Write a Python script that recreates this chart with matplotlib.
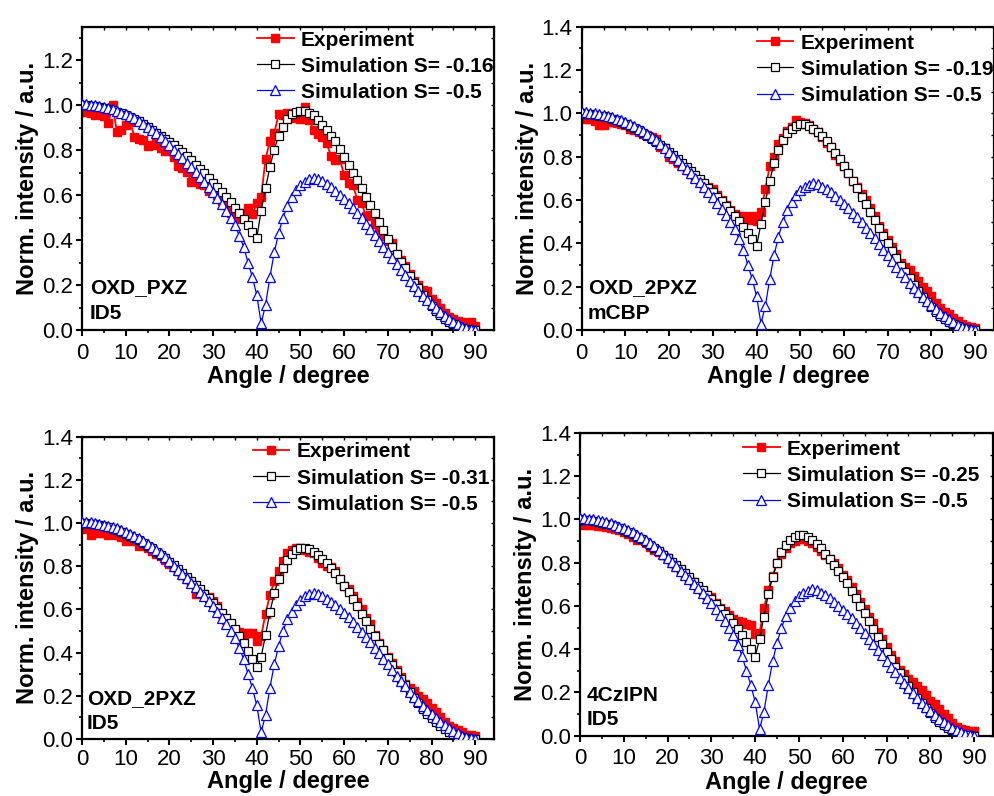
import numpy as np
import matplotlib
matplotlib.use('Agg')
import matplotlib.pyplot as plt
from matplotlib.ticker import MultipleLocator

plt.rcParams['font.family'] = ['Liberation Sans', 'DejaVu Sans']

# ----------------------------------- data -----------------------------------
angle = np.arange(0, 91)

# S = -0.5 simulation, same in every panel
sim_05 = [1.005, 1.005, 1.003, 1.0, 0.997, 0.993, 0.988, 0.982, 0.975, 0.967,
          0.96, 0.951, 0.941, 0.93, 0.918, 0.905, 0.891, 0.876, 0.86, 0.842,
          0.823, 0.803, 0.783, 0.763, 0.743, 0.723, 0.702, 0.681, 0.66, 0.638,
          0.615, 0.588, 0.56, 0.53, 0.50, 0.465, 0.42, 0.37, 0.30, 0.235,
          0.155, 0.03, 0.11, 0.235, 0.345, 0.43, 0.50, 0.553, 0.59, 0.622,
          0.645, 0.66, 0.67, 0.677, 0.672, 0.662, 0.65, 0.636, 0.62, 0.602,
          0.583, 0.563, 0.542, 0.52, 0.497, 0.473, 0.448, 0.423, 0.397, 0.371,
          0.345, 0.319, 0.293, 0.268, 0.243, 0.219, 0.196, 0.174, 0.153, 0.133,
          0.114, 0.096, 0.079, 0.063, 0.049, 0.036, 0.025, 0.015, 0.008, 0.003,
          0.0]

sim_a = [1.0, 0.999, 0.997, 0.995, 0.992, 0.988, 0.983, 0.977, 0.971, 0.964,
         0.956, 0.948, 0.939, 0.929, 0.916, 0.902, 0.89, 0.877, 0.864, 0.851,
         0.838, 0.823, 0.807, 0.79, 0.773, 0.755, 0.736, 0.717, 0.697, 0.677,
         0.656, 0.635, 0.613, 0.591, 0.568, 0.545, 0.52, 0.494, 0.466, 0.438,
         0.41, 0.53, 0.63, 0.726, 0.803, 0.862, 0.904, 0.94, 0.96, 0.97,
         0.975, 0.975, 0.966, 0.955, 0.936, 0.914, 0.889, 0.864, 0.84, 0.807,
         0.77, 0.736, 0.70, 0.667, 0.63, 0.593, 0.556, 0.52, 0.48, 0.444,
         0.407, 0.37, 0.338, 0.304, 0.274, 0.24, 0.21, 0.185, 0.155, 0.133,
         0.107, 0.086, 0.067, 0.049, 0.036, 0.025, 0.016, 0.009, 0.004, 0.001,
         0.0]

sim_b = [1.0, 0.999, 0.997, 0.994, 0.99, 0.986, 0.981, 0.975, 0.968, 0.96,
         0.951, 0.942, 0.932, 0.921, 0.909, 0.896, 0.883, 0.869, 0.854, 0.839,
         0.823, 0.806, 0.789, 0.771, 0.753, 0.735, 0.716, 0.697, 0.677, 0.657,
         0.637, 0.616, 0.595, 0.573, 0.551, 0.528, 0.503, 0.477, 0.448, 0.418,
         0.388, 0.49, 0.59, 0.688, 0.77, 0.83, 0.877, 0.91, 0.93, 0.943,
         0.951, 0.951, 0.94, 0.93, 0.915, 0.895, 0.872, 0.846, 0.818, 0.788,
         0.757, 0.723, 0.688, 0.654, 0.615, 0.58, 0.545, 0.508, 0.47, 0.435,
         0.40, 0.366, 0.331, 0.297, 0.27, 0.238, 0.208, 0.18, 0.154, 0.131,
         0.108, 0.085, 0.066, 0.05, 0.037, 0.026, 0.017, 0.01, 0.005, 0.002,
         0.0]

sim_c = [1.0, 0.999, 0.997, 0.994, 0.99, 0.985, 0.98, 0.974, 0.967, 0.959,
         0.95, 0.941, 0.931, 0.92, 0.908, 0.895, 0.882, 0.868, 0.853, 0.837,
         0.821, 0.804, 0.786, 0.768, 0.75, 0.731, 0.712, 0.692, 0.672, 0.652,
         0.63, 0.608, 0.585, 0.561, 0.536, 0.51, 0.477, 0.443, 0.407, 0.371,
         0.335, 0.38, 0.48, 0.586, 0.674, 0.74, 0.79, 0.827, 0.855, 0.873,
         0.883, 0.883, 0.878, 0.867, 0.852, 0.835, 0.817, 0.792, 0.768, 0.74,
         0.709, 0.679, 0.648, 0.614, 0.579, 0.545, 0.51, 0.476, 0.441, 0.41,
         0.375, 0.341, 0.31, 0.279, 0.249, 0.218, 0.19, 0.164, 0.138, 0.115,
         0.095, 0.077, 0.06, 0.045, 0.033, 0.023, 0.015, 0.009, 0.004, 0.001,
         0.0]

sim_d = [1.0, 0.999, 0.997, 0.994, 0.99, 0.986, 0.981, 0.975, 0.968, 0.96,
         0.951, 0.942, 0.932, 0.921, 0.909, 0.896, 0.882, 0.868, 0.853, 0.838,
         0.822, 0.805, 0.788, 0.77, 0.751, 0.732, 0.713, 0.693, 0.672, 0.651,
         0.63, 0.609, 0.587, 0.565, 0.543, 0.52, 0.495, 0.467, 0.434, 0.401,
         0.366, 0.446, 0.551, 0.654, 0.736, 0.798, 0.849, 0.883, 0.906, 0.921,
         0.926, 0.926, 0.918, 0.906, 0.887, 0.867, 0.842, 0.816, 0.79, 0.763,
         0.735, 0.705, 0.671, 0.637, 0.6, 0.566, 0.531, 0.492, 0.458, 0.423,
         0.389, 0.353, 0.319, 0.289, 0.258, 0.23, 0.202, 0.176, 0.15, 0.127,
         0.103, 0.083, 0.065, 0.049, 0.036, 0.025, 0.016, 0.009, 0.004, 0.001,
         0.0]

exp_a = [0.97, 0.97, 0.965, 0.955, 0.96, 0.95, 0.92, 1.0, 0.88, 0.89,
         0.91, 0.925, 0.86, 0.85, 0.845, 0.82, 0.825, 0.83, 0.81, 0.795,
         0.805, 0.77, 0.73, 0.72, 0.705, 0.66, 0.69, 0.65, 0.645, 0.62,
         0.615, 0.6, 0.575, 0.555, 0.52, 0.495, 0.52, 0.515, 0.545, 0.515,
         0.565, 0.59, 0.76, 0.84, 0.875, 0.96, 0.955, 0.965, 0.945, 0.95,
         0.94, 0.99, 0.935, 0.89, 0.87, 0.86, 0.83, 0.775, 0.755, 0.76,
         0.69, 0.655, 0.645, 0.58, 0.565, 0.505, 0.51, 0.47, 0.445, 0.42,
         0.395, 0.385, 0.34, 0.31, 0.285, 0.25, 0.22, 0.2, 0.18, 0.175,
         0.14, 0.12, 0.1, 0.075, 0.06, 0.05, 0.04, 0.035, 0.03, 0.035,
         0.02]

exp_b = [0.98, 0.975, 0.975, 0.965, 0.945, 0.945, 0.96, 0.96, 0.955, 0.95,
         0.945, 0.93, 0.925, 0.915, 0.905, 0.9, 0.89, 0.88, 0.845, 0.84,
         0.8, 0.79, 0.77, 0.755, 0.74, 0.72, 0.7, 0.69, 0.675, 0.66,
         0.65, 0.625, 0.6, 0.575, 0.555, 0.535, 0.52, 0.525, 0.51, 0.525,
         0.505, 0.545, 0.65, 0.755, 0.8, 0.86, 0.885, 0.92, 0.935, 0.97,
         0.96, 0.955, 0.945, 0.93, 0.915, 0.89, 0.865, 0.845, 0.81, 0.78,
         0.755, 0.725, 0.69, 0.66, 0.63, 0.6, 0.565, 0.525, 0.48, 0.45,
         0.415, 0.385, 0.35, 0.31, 0.29, 0.275, 0.25, 0.225, 0.2, 0.18,
         0.155, 0.125, 0.1, 0.085, 0.072, 0.055, 0.04, 0.03, 0.02, 0.015,
         0.01]

exp_c = [0.975, 0.97, 0.945, 0.965, 0.955, 0.955, 0.945, 0.95, 0.945, 0.935,
         0.915, 0.92, 0.915, 0.895, 0.9, 0.885, 0.87, 0.855, 0.845, 0.83,
         0.81, 0.795, 0.78, 0.76, 0.74, 0.72, 0.67, 0.68, 0.67, 0.655,
         0.64, 0.615, 0.58, 0.55, 0.53, 0.505, 0.495, 0.485, 0.49, 0.49,
         0.455, 0.475, 0.58, 0.665, 0.73, 0.78, 0.825, 0.86, 0.875, 0.885,
         0.885, 0.875, 0.865, 0.86, 0.84, 0.815, 0.8, 0.795, 0.78, 0.74,
         0.71, 0.695, 0.66, 0.635, 0.6, 0.56, 0.53, 0.48, 0.445, 0.41,
         0.38, 0.35, 0.32, 0.285, 0.255, 0.235, 0.22, 0.2, 0.185, 0.165,
         0.145, 0.125, 0.1, 0.08, 0.06, 0.05, 0.04, 0.03, 0.02, 0.02,
         0.015]

exp_d = [0.985, 0.975, 0.975, 0.975, 0.97, 0.97, 0.965, 0.96, 0.955, 0.95,
         0.94, 0.935, 0.92, 0.905, 0.91, 0.89, 0.875, 0.86, 0.85, 0.835,
         0.82, 0.8, 0.78, 0.765, 0.745, 0.725, 0.71, 0.69, 0.67, 0.65,
         0.64, 0.615, 0.59, 0.575, 0.56, 0.54, 0.53, 0.525, 0.515, 0.51,
         0.47, 0.475, 0.59, 0.675, 0.74, 0.8, 0.84, 0.87, 0.89, 0.9,
         0.91, 0.91, 0.9, 0.89, 0.875, 0.855, 0.835, 0.815, 0.8, 0.775,
         0.745, 0.72, 0.69, 0.655, 0.62, 0.585, 0.55, 0.52, 0.48, 0.445,
         0.41, 0.375, 0.345, 0.305, 0.285, 0.26, 0.25, 0.23, 0.21, 0.19,
         0.16, 0.145, 0.125, 0.1, 0.08, 0.06, 0.04, 0.03, 0.025, 0.02,
         0.02]

s_labels = ['Simulation S= -0.16', 'Simulation S= -0.19', 'Simulation S= -0.31', 'Simulation S= -0.25']
samples = [('OXD_PXZ', 'ID5'), ('OXD_2PXZ', 'mCBP'), ('OXD_2PXZ', 'ID5'), ('4CzIPN', 'ID5')]
exps = [exp_a, exp_b, exp_c, exp_d]
sims = [sim_a, sim_b, sim_c, sim_d]

# ----------------------------------- layout -----------------------------------
fig = plt.figure(figsize=(9.95, 7.96), dpi=100)
# [left, bottom, width, height] in figure fraction
boxes = [[0.0824, 0.5854, 0.4141, 0.3807],
         [0.5846, 0.5854, 0.4144, 0.3811],
         [0.0824, 0.0718, 0.4141, 0.3796],
         [0.5829, 0.0758, 0.4151, 0.3802]]
ytops = [1.348, 1.4, 1.4, 1.4]
leg_anchor = [(0.425, 0.988), (0.425, 0.977), (0.415, 0.981), (0.395, 0.978)]
txt_pos = [(0.019, 0.139, 0.056), (0.015, 0.139, 0.056), (0.012, 0.134, 0.052), (0.015, 0.134, 0.052)]
xlab_pad = [1, 1, 0, 1]
xtick_pad = [4.5, 4.5, 3.0, 4.5]

for i in range(4):
    ax = fig.add_axes(boxes[i])
    ax.plot(angle, exps[i], color='red', marker='s', markersize=5.5, linewidth=1.3,
            markeredgecolor='red', label='Experiment', zorder=2)
    ax.plot(angle, sims[i], color='black', marker='s', markersize=5.5, linewidth=0.9,
            markerfacecolor='white', markeredgewidth=0.9, label=s_labels[i], zorder=3)
    ax.plot(angle, sim_05, color='blue', marker='^', markersize=6.5, linewidth=0.9,
            markerfacecolor='white', markeredgewidth=0.9, label='Simulation S= -0.5', zorder=4)

    ax.set_xlim(0, 94.3)
    ax.set_ylim(0, ytops[i])
    ax.xaxis.set_major_locator(MultipleLocator(10))
    ax.xaxis.set_minor_locator(MultipleLocator(5))
    ax.yaxis.set_major_locator(MultipleLocator(0.2))
    ax.yaxis.set_minor_locator(MultipleLocator(0.1))
    ax.yaxis.set_major_formatter(plt.FormatStrFormatter('%.1f'))
    if i == 0:
        ax.set_yticks(np.arange(0, 1.21, 0.2))
    ax.tick_params(which='major', direction='out', length=4.5, width=1.5, labelsize=16, pad=2)
    ax.tick_params(axis='x', which='major', pad=xtick_pad[i])
    ax.tick_params(which='minor', direction='out', length=2.5, width=1.2)
    for sp in ax.spines.values():
        sp.set_linewidth(1.6)

    top = ax.secondary_xaxis('top')
    top.xaxis.set_major_locator(MultipleLocator(10))
    top.xaxis.set_minor_locator(MultipleLocator(5))
    top.tick_params(which='both', direction='in', length=2.5, width=1, labeltop=False)
    right = ax.secondary_yaxis('right')
    right.yaxis.set_major_locator(MultipleLocator(0.2))
    right.yaxis.set_minor_locator(MultipleLocator(0.1))
    right.tick_params(which='both', direction='in', length=2.5, width=1, labelright=False)

    ax.set_xlabel('Angle / degree', fontsize=17, fontweight='bold', labelpad=xlab_pad[i])
    ax.set_ylabel('Norm. intensity / a.u.', fontsize=17, fontweight='bold', labelpad=2)

    ax.legend(loc='upper left', bbox_to_anchor=leg_anchor[i], frameon=False,
              prop={'size': 15, 'weight': 'bold'}, handlelength=1.75, handletextpad=0.35,
              labelspacing=0.34, borderpad=0, borderaxespad=0)

    tx, ty1, ty2 = txt_pos[i]
    ax.text(tx, ty1, samples[i][0], transform=ax.transAxes, fontsize=15, fontweight='bold', va='center')
    ax.text(tx, ty2, samples[i][1], transform=ax.transAxes, fontsize=15, fontweight='bold', va='center')

plt.savefig('out.png', dpi=100)
